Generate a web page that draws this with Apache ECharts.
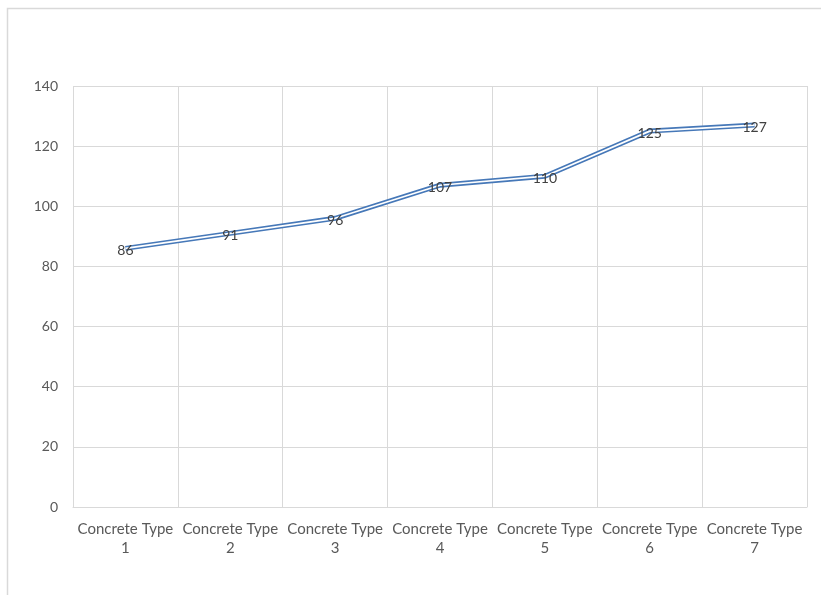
<!DOCTYPE html>
<html>
<head>
<meta charset="utf-8">
<script src="https://cdn.jsdelivr.net/npm/echarts@6/dist/echarts.min.js"></script>
<style>
  html, body { margin: 0; padding: 0; background: #fff; }
  #chart { width: 821px; height: 595px; }
</style>
</head>
<body>
<div id="chart"></div>
<script>
// Compressive strength by concrete type
const categories = ['Concrete Type\n1', 'Concrete Type\n2', 'Concrete Type\n3', 'Concrete Type\n4',
                    'Concrete Type\n5', 'Concrete Type\n6', 'Concrete Type\n7'];
const strength = [86, 91, 96, 107, 110, 125, 127];
const yTicks = { min: 0, max: 140, interval: 20 };

const FONT = 'Lato, "Open Sans", "Liberation Sans", sans-serif';
const LINE_BLUE = '#4678b8';
const GRID_GRAY = '#d9d9d9';

const chart = echarts.init(document.getElementById('chart'), null, { renderer: 'canvas' });

chart.setOption({
  backgroundColor: '#ffffff',
  animation: false,
  textStyle: { fontFamily: FONT },
  graphic: [{
    type: 'rect',
    shape: { x: 7.5, y: 8.5, width: 830, height: 600 },
    style: { fill: 'none', stroke: '#d9d9d9', lineWidth: 1.5 },
    silent: true,
    z: -10
  }],
  grid: { left: 73, right: 14, top: 86, bottom: 88, containLabel: false },
  xAxis: {
    type: 'category',
    data: categories,
    boundaryGap: true,
    axisLine: { show: true, lineStyle: { color: GRID_GRAY, width: 1 } },
    axisTick: { show: false },
    splitLine: { show: true, lineStyle: { color: GRID_GRAY, width: 1 } },
    axisLabel: {
      color: '#595959',
      fontSize: 15,
      fontFamily: FONT,
      lineHeight: 19,
      margin: 13,
      interval: 0
    }
  },
  yAxis: {
    type: 'value',
    min: yTicks.min,
    max: yTicks.max,
    interval: yTicks.interval,
    axisLine: { show: false },
    axisTick: { show: false },
    splitLine: { show: true, lineStyle: { color: GRID_GRAY, width: 1 } },
    axisLabel: { color: '#595959', fontSize: 14, fontFamily: FONT, margin: 15 }
  },
  series: [
    {
      // outer stroke of the double line
      type: 'line',
      data: strength,
      symbol: 'none',
      lineStyle: { color: LINE_BLUE, width: 5 },
      z: 2,
      silent: true
    },
    {
      // inner white core, carries the value labels
      type: 'line',
      data: strength,
      symbol: 'circle',
      symbolSize: 0,
      showSymbol: true,
      lineStyle: { color: '#ffffff', width: 1.7 },
      itemStyle: { color: 'rgba(0,0,0,0)' },
      label: {
        show: true,
        position: 'inside',
        color: '#404040',
        fontSize: 14,
        fontFamily: FONT,
        offset: [0, 2]
      },
      z: 3,
      silent: true
    }
  ]
});
</script>
</body>
</html>
